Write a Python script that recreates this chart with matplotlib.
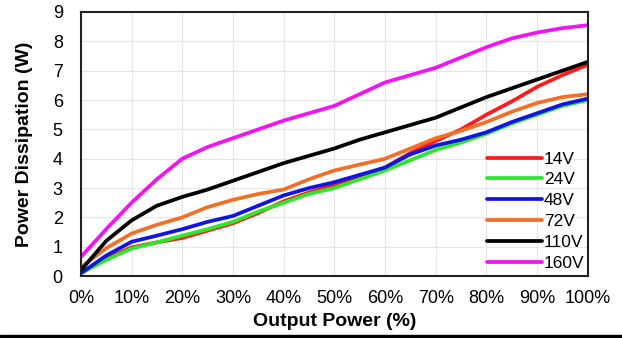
import matplotlib
matplotlib.use('Agg')
import matplotlib.pyplot as plt
from matplotlib.patches import Rectangle
from matplotlib.ticker import FuncFormatter

plt.rcParams['font.family'] = ['Liberation Sans', 'DejaVu Sans']

# output power (%) and power dissipation (W) per input voltage
output_pct = [0, 5, 10, 15, 20, 25, 30, 35, 40, 45, 50, 55, 60, 65, 70, 75, 80, 85, 90, 95, 100]

v14 = [0.1, 0.6, 0.98, 1.15, 1.3, 1.55, 1.8, 2.15, 2.55, 2.85, 3.1, 3.4, 3.7, 4.2, 4.6, 5.0, 5.5, 5.95, 6.45, 6.85, 7.2]
v24 = [0.1, 0.55, 0.94, 1.15, 1.38, 1.6, 1.85, 2.2, 2.5, 2.8, 3.0, 3.3, 3.6, 3.95, 4.3, 4.55, 4.85, 5.2, 5.5, 5.8, 6.0]
v48 = [0.1, 0.7, 1.17, 1.38, 1.6, 1.85, 2.05, 2.4, 2.75, 3.0, 3.2, 3.45, 3.7, 4.15, 4.45, 4.65, 4.9, 5.25, 5.55, 5.85, 6.05]
v72 = [0.3, 0.95, 1.45, 1.75, 2.0, 2.35, 2.6, 2.8, 2.95, 3.3, 3.6, 3.8, 4.0, 4.35, 4.7, 4.95, 5.25, 5.6, 5.9, 6.1, 6.2]
v110 = [0.2, 1.2, 1.9, 2.4, 2.7, 2.95, 3.25, 3.55, 3.85, 4.1, 4.35, 4.65, 4.9, 5.15, 5.4, 5.75, 6.1, 6.4, 6.7, 7.0, 7.3]
v160 = [0.65, 1.6, 2.5, 3.3, 4.0, 4.4, 4.7, 5.0, 5.3, 5.55, 5.8, 6.2, 6.6, 6.85, 7.1, 7.45, 7.8, 8.1, 8.3, 8.45, 8.55]

series = [('14V', v14, '#ff1a1a'), ('24V', v24, '#2ee62e'),
          ('48V', v48, '#1414e0'), ('72V', v72, '#f07028'),
          ('110V', v110, '#000000'), ('160V', v160, '#f014f0')]

fig = plt.figure(figsize=(6.22, 3.38), dpi=100)
ax = fig.add_axes([0.130, 0.183, 0.815, 0.7815])

for name, vals, col in series:
    ax.plot(output_pct, vals, color=col, lw=2.7, label=name, solid_capstyle='round')

ax.set_xlim(0, 100)
ax.set_ylim(0, 9)
ax.set_xticks(range(0, 101, 10))
ax.set_yticks(range(0, 10))
ax.xaxis.set_major_formatter(FuncFormatter(lambda v, p: f'{int(v)}%'))
ax.tick_params(length=0, labelsize=13)
ax.tick_params(axis='x', pad=10)
ax.tick_params(axis='y', pad=13)
ax.grid(True, color='#e6e6e6', lw=0.8)
ax.set_axisbelow(True)
for s in ax.spines.values():
    s.set_linewidth(1.5)
    s.set_color('#222222')

ax.set_xlabel('Output Power (%)', fontsize=14, fontweight='bold', labelpad=4)
ax.set_ylabel('Power Dissipation (W)', fontsize=14, fontweight='bold', labelpad=14)

ax.legend(loc='lower left', bbox_to_anchor=(0.78, -0.02), frameon=False,
          fontsize=12.5, labelspacing=0.33, handlelength=3.2, handletextpad=0.1,
          borderaxespad=0.2)

# black strip along the bottom edge
fig.patches.append(Rectangle((0, 0), 1, 3 / 338, transform=fig.transFigure,
                             color='black', zorder=10))

fig.savefig('out.png', dpi=100)
